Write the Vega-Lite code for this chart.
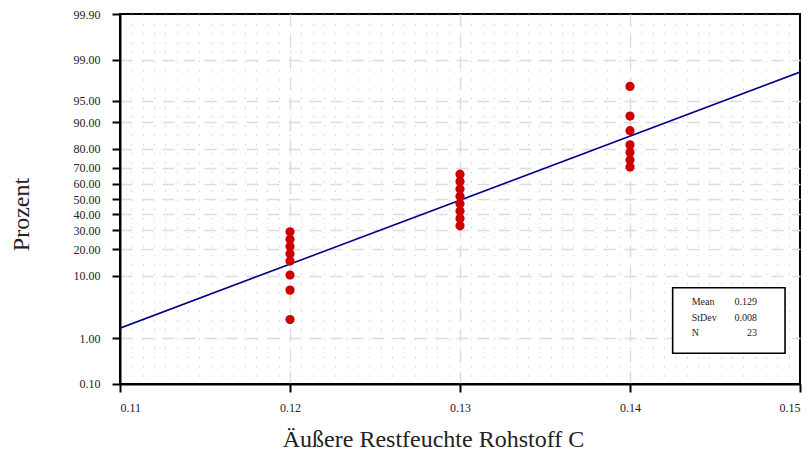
{
  "$schema": "https://vega.github.io/schema/vega-lite/v6.json",
  "width": 680,
  "height": 370,
  "autosize": {"type": "none"},
  "padding": {"left": 120, "top": 14, "right": 11, "bottom": 66},
  "background": "white",
  "config": {
    "font": "Liberation Serif",
    "view": {"stroke": "black", "strokeWidth": 2},
    "axis": {
      "labelFont": "Liberation Serif",
      "titleFont": "Liberation Serif",
      "labelColor": "#222222",
      "titleColor": "#222222",
      "labelFontSize": 12,
      "titleFontSize": 24,
      "titleFontWeight": "normal",
      "domainColor": "black",
      "domainWidth": 2,
      "tickColor": "black",
      "tickWidth": 2,
      "tickSize": 8
    },
    "text": {"fontSize": 10, "color": "#222222", "baseline": "middle"}
  },
  "datasets": {
    "werte": [
      {"x": 0.12, "p": 29.2}, {"x": 0.12, "p": 25.1}, {"x": 0.12, "p": 21.4}, {"x": 0.12, "p": 18.0},
      {"x": 0.12, "p": 15.0}, {"x": 0.12, "p": 10.2}, {"x": 0.12, "p": 6.4}, {"x": 0.12, "p": 2.2},
      {"x": 0.13, "p": 66.1}, {"x": 0.13, "p": 61.5}, {"x": 0.13, "p": 56.7}, {"x": 0.13, "p": 51.8},
      {"x": 0.13, "p": 46.9}, {"x": 0.13, "p": 42.0}, {"x": 0.13, "p": 37.3}, {"x": 0.13, "p": 32.7},
      {"x": 0.14, "p": 97.0}, {"x": 0.14, "p": 91.7}, {"x": 0.14, "p": 87.3}, {"x": 0.14, "p": 81.7},
      {"x": 0.14, "p": 78.1}, {"x": 0.14, "p": 74.3}, {"x": 0.14, "p": 70.3}
    ],
    "anpassung": [
      {"x": 0.11, "p": 1.55},
      {"x": 0.15, "p": 98.3}
    ],
    "kennwerte": [
      {"name": "Mean", "wert": "0.129"},
      {"name": "StDev", "wert": "0.008"},
      {"name": "N", "wert": "23"}
    ]
  },
  "resolve": {"axis": {"x": "independent", "y": "independent"}},
  "layer": [
    {
      "data": {"name": "werte"},
      "transform": [{"calculate": "quantileNormal(datum.p / 100)", "as": "z"}],
      "mark": {"type": "point", "opacity": 0},
      "encoding": {
        "x": {
          "field": "x", "type": "quantitative",
          "scale": {"domain": [0.11, 0.15], "nice": false, "zero": false},
          "axis": {
            "orient": "bottom", "grid": true, "gridDash": [1.5, 7.75], "gridColor": "#d2d2d2", "gridWidth": 1,
            "values": {"expr": "sequence(0.11 + 0.04 / 60, 0.1499, 0.04 / 60)"},
            "labels": false, "ticks": false, "domain": false, "title": null
          }
        },
        "y": {
          "field": "z", "type": "quantitative",
          "scale": {"domain": [-3.09025, 3.09025], "nice": false, "zero": false},
          "axis": null
        }
      }
    },
    {
      "data": {"name": "werte"},
      "transform": [{"calculate": "quantileNormal(datum.p / 100)", "as": "z"}],
      "mark": {"type": "point", "opacity": 0},
      "encoding": {
        "x": {
          "field": "x", "type": "quantitative",
          "axis": {
            "orient": "bottom", "grid": true, "gridDash": [12, 9], "gridColor": "#dcdcdc", "gridWidth": 1.5,
            "values": [0.12, 0.13, 0.14],
            "labels": false, "ticks": false, "domain": false, "title": null
          }
        },
        "y": {
          "field": "z", "type": "quantitative",
          "axis": {
            "orient": "left", "grid": true, "gridDash": [12, 9], "gridColor": "#dcdcdc", "gridWidth": 1.5,
            "values": {"expr": "[quantileNormal(0.01), quantileNormal(0.1), quantileNormal(0.2), quantileNormal(0.3), quantileNormal(0.4), quantileNormal(0.5), quantileNormal(0.6), quantileNormal(0.7), quantileNormal(0.8), quantileNormal(0.9), quantileNormal(0.95), quantileNormal(0.99)]"},
            "labels": false, "ticks": false, "domain": false, "title": null
          }
        }
      }
    },
    {
      "data": {"name": "anpassung"},
      "transform": [{"calculate": "quantileNormal(datum.p / 100)", "as": "z"}],
      "mark": {"type": "line", "color": "#00008b", "strokeWidth": 1.6, "clip": true},
      "encoding": {
        "x": {
          "field": "x", "type": "quantitative",
          "axis": {
            "orient": "bottom", "grid": false,
            "values": [0.11, 0.12, 0.13, 0.14, 0.15], "format": ".2f", "labelPadding": 10,
            "title": "Äußere Restfeuchte Rohstoff C",
            "titleX": 313, "titleY": 62, "titleAlign": "center", "titleBaseline": "alphabetic", "titleAnchor": null
          }
        },
        "y": {
          "field": "z", "type": "quantitative",
          "axis": {
            "orient": "left", "grid": false,
            "values": {"expr": "[quantileNormal(0.001), quantileNormal(0.01), quantileNormal(0.1), quantileNormal(0.2), quantileNormal(0.3), quantileNormal(0.4), quantileNormal(0.5), quantileNormal(0.6), quantileNormal(0.7), quantileNormal(0.8), quantileNormal(0.9), quantileNormal(0.95), quantileNormal(0.99), quantileNormal(0.999)]"},
            "labelExpr": "format(cumulativeNormal(datum.value) * 100, '.2f')",
            "labelPadding": 12,
            "title": "Prozent",
            "titleX": -92, "titleY": 200, "titleAngle": 270, "titleAlign": "center", "titleBaseline": "alphabetic"
          }
        }
      }
    },
    {
      "data": {"name": "werte"},
      "transform": [{"calculate": "quantileNormal(datum.p / 100)", "as": "z"}],
      "mark": {"type": "circle", "size": 85, "color": "#cc0000", "opacity": 1},
      "encoding": {
        "x": {"field": "x", "type": "quantitative", "axis": null},
        "y": {"field": "z", "type": "quantitative", "axis": null}
      }
    },
    {
      "data": {"values": [{}]},
      "mark": {"type": "rect", "fill": "white", "stroke": "black", "strokeWidth": 1.6},
      "encoding": {
        "x": {"datum": 0.14251, "type": "quantitative", "axis": null},
        "x2": {"datum": 0.14912},
        "y": {"datum": -1.4816, "type": "quantitative", "axis": null},
        "y2": {"datum": -2.5773}
      }
    },
    {
      "data": {"name": "kennwerte"},
      "transform": [{"filter": "datum.name === 'Mean'"}],
      "layer": [
        {
          "mark": {"type": "text", "align": "left"},
          "encoding": {
            "text": {"field": "name"},
            "x": {"datum": 0.14363, "type": "quantitative", "axis": null},
            "y": {"datum": -1.7204, "type": "quantitative", "axis": null}
          }
        },
        {
          "mark": {"type": "text", "align": "right"},
          "encoding": {
            "text": {"field": "wert"},
            "x": {"datum": 0.14747, "type": "quantitative", "axis": null},
            "y": {"datum": -1.7204, "type": "quantitative", "axis": null}
          }
        }
      ]
    },
    {
      "data": {"name": "kennwerte"},
      "transform": [{"filter": "datum.name === 'StDev'"}],
      "layer": [
        {
          "mark": {"type": "text", "align": "left"},
          "encoding": {
            "text": {"field": "name"},
            "x": {"datum": 0.14363, "type": "quantitative", "axis": null},
            "y": {"datum": -1.9877, "type": "quantitative", "axis": null}
          }
        },
        {
          "mark": {"type": "text", "align": "right"},
          "encoding": {
            "text": {"field": "wert"},
            "x": {"datum": 0.14747, "type": "quantitative", "axis": null},
            "y": {"datum": -1.9877, "type": "quantitative", "axis": null}
          }
        }
      ]
    },
    {
      "data": {"name": "kennwerte"},
      "transform": [{"filter": "datum.name === 'N'"}],
      "layer": [
        {
          "mark": {"type": "text", "align": "left"},
          "encoding": {
            "text": {"field": "name"},
            "x": {"datum": 0.14363, "type": "quantitative", "axis": null},
            "y": {"datum": -2.2382, "type": "quantitative", "axis": null}
          }
        },
        {
          "mark": {"type": "text", "align": "right"},
          "encoding": {
            "text": {"field": "wert"},
            "x": {"datum": 0.14747, "type": "quantitative", "axis": null},
            "y": {"datum": -2.2382, "type": "quantitative", "axis": null}
          }
        }
      ]
    }
  ]
}
